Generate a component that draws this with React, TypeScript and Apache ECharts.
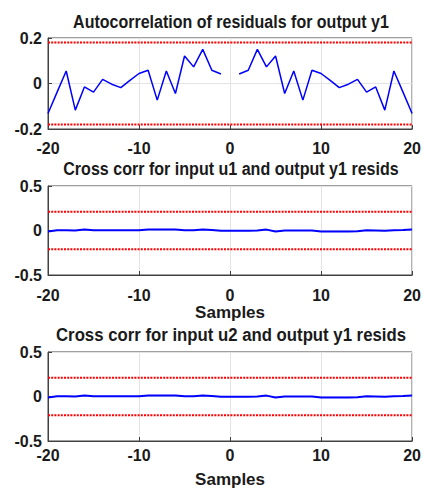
import React, { useEffect, useRef } from "react";
import * as echarts from "echarts";

const lags = [-20,-19,-18,-17,-16,-15,-14,-13,-12,-11,-10,-9,-8,-7,-6,-5,-4,-3,-2,-1,0,1,2,3,4,5,6,7,8,9,10,11,12,13,14,15,16,17,18,19,20];
const xTicks = [-20, -10, 0, 10, 20];

const acfValues = [-0.132,-0.038,0.055,-0.117,-0.015,-0.038,0.018,-0.003,-0.018,0.014,0.044,0.058,-0.073,0.055,-0.044,0.121,0.073,0.150,0.058,0.042,null,0.042,0.058,0.150,0.073,0.121,-0.044,0.055,-0.073,0.058,0.044,0.014,-0.018,-0.003,0.018,-0.038,-0.015,-0.117,0.055,-0.038,-0.132];
const acfConf = 0.18;

const ccU1Values = [-0.01,0.003,0.003,0.0,0.01,0.003,0.002,0.002,0.002,0.002,0.002,0.01,0.01,0.01,0.01,0.004,0.004,0.01,0.006,-0.004,-0.004,-0.002,-0.002,0.0,0.01,-0.012,0.0,0.0,0.0,0.0,-0.01,-0.01,-0.01,-0.01,-0.008,0.002,0.0,-0.004,0.002,0.006,0.012];
const ccU2Values = [-0.01,0.003,0.003,0.0,0.01,0.003,0.002,0.002,0.002,0.002,0.002,0.01,0.01,0.01,0.01,0.004,0.004,0.01,0.006,-0.004,-0.004,-0.002,-0.002,0.0,0.01,-0.012,0.0,0.0,0.0,0.0,-0.01,-0.01,-0.01,-0.01,-0.008,0.002,0.0,-0.004,0.002,0.006,0.012];
const ccConf = 0.21;

const titles = [
  "Autocorrelation of residuals for output y1",
  "Cross corr for input u1 and output y1 resids",
  "Cross corr for input u2 and output y1 resids",
];
const xName = "Samples";

const FONT = "'Liberation Sans', Arial, sans-serif";
const TXT = "#1a1a1a";
const AXC = "#404040";

function measure(text: string, font: string): number {
  const c = document.createElement("canvas").getContext("2d");
  if (!c) return text.length * 9;
  c.font = font;
  return c.measureText(text).width;
}

export default function App() {
  const ref = useRef<HTMLDivElement>(null);
  useEffect(() => {
    document.body.style.margin = "0";
    const chart = echarts.init(ref.current!, null, { renderer: "svg" });
    const grids = [
      { left: 48, top: 38, width: 367, height: 91 },
      { left: 48, top: 186, width: 367, height: 89 },
      { left: 48, top: 352, width: 367, height: 89 },
    ];
    const titleMid = [21.7, 168.3, 335];
    const titleWidths = [316, 336, 350];
    const titleFontSize = 19;
    const yRanges = [
      { min: -0.2, max: 0.2, interval: 0.2 },
      { min: -0.5, max: 0.5, interval: 0.5 },
      { min: -0.5, max: 0.5, interval: 0.5 },
    ];
    const labelMargins = [11, 12, 6];
    const nameGaps = [0, 26, 30];
    const series: any[] = [];
    const mainData = [acfValues, ccU1Values, ccU2Values];
    const confs = [acfConf, ccConf, ccConf];
    for (let i = 0; i < 3; i++) {
      const c = confs[i];
      for (const s of [c, -c]) {
        series.push({
          type: "line",
          xAxisIndex: i,
          yAxisIndex: i,
          data: [[xTicks[0], s], [xTicks[xTicks.length - 1], s]],
          symbol: "none",
          lineStyle: { color: "#ff0000", width: 2, type: [2, 1.2] },
          silent: true,
        });
      }
      series.push({
        type: "line",
        xAxisIndex: i,
        yAxisIndex: i,
        data: lags.map((l, k) => [l, mainData[i][k]]),
        symbol: "none",
        connectNulls: false,
        lineStyle: { color: "#0000ff", width: i === 0 ? 1.5 : 2 },
        z: 3,
      });
    }
    const graphic = titles.map((t, i) => {
      const w = measure(t, `bold ${titleFontSize}px 'Liberation Sans'`);
      return {
        type: "text",
        x: 231,
        y: titleMid[i],
        scaleX: titleWidths[i] / w,
        scaleY: 1,
        style: {
          text: t,
          fontFamily: FONT,
          fontWeight: "bold",
          fontSize: titleFontSize,
          fill: TXT,
          textAlign: "center",
          textVerticalAlign: "middle",
        },
      };
    });
    chart.setOption({
      animation: false,
      backgroundColor: "#ffffff",
      graphic,
      grid: grids.map((g) => ({ ...g, show: true, borderColor: AXC, borderWidth: 1, backgroundColor: "#fff" })),
      xAxis: grids.map((_, i) => ({
        type: "value",
        gridIndex: i,
        min: -20,
        max: 20,
        interval: 10,
        name: i === 0 ? "" : xName,
        nameLocation: "middle",
        nameGap: nameGaps[i],
        nameTextStyle: { fontFamily: FONT, fontWeight: "bold", fontSize: 17, color: TXT },
        axisLine: { show: true, onZero: false, lineStyle: { color: AXC } },
        axisTick: { show: true, inside: true, length: 4, lineStyle: { color: AXC } },
        axisLabel: { fontFamily: FONT, fontWeight: "bold", fontSize: 16, color: TXT, margin: labelMargins[i] },
        splitLine: { show: true, lineStyle: { color: "#e3e3e3", width: 1 } },
      })),
      yAxis: grids.map((_, i) => ({
        type: "value",
        gridIndex: i,
        ...yRanges[i],
        axisLine: { show: true, onZero: false, lineStyle: { color: AXC } },
        axisTick: { show: true, inside: true, length: 4, lineStyle: { color: AXC } },
        axisLabel: { fontFamily: FONT, fontWeight: "bold", fontSize: 16, color: TXT, margin: 6 },
        splitLine: { show: true, lineStyle: { color: "#e3e3e3", width: 1 } },
      })),
      series,
    });
    return () => chart.dispose();
  }, []);
  return <div ref={ref} style={{ width: 424, height: 490 }} />;
}
